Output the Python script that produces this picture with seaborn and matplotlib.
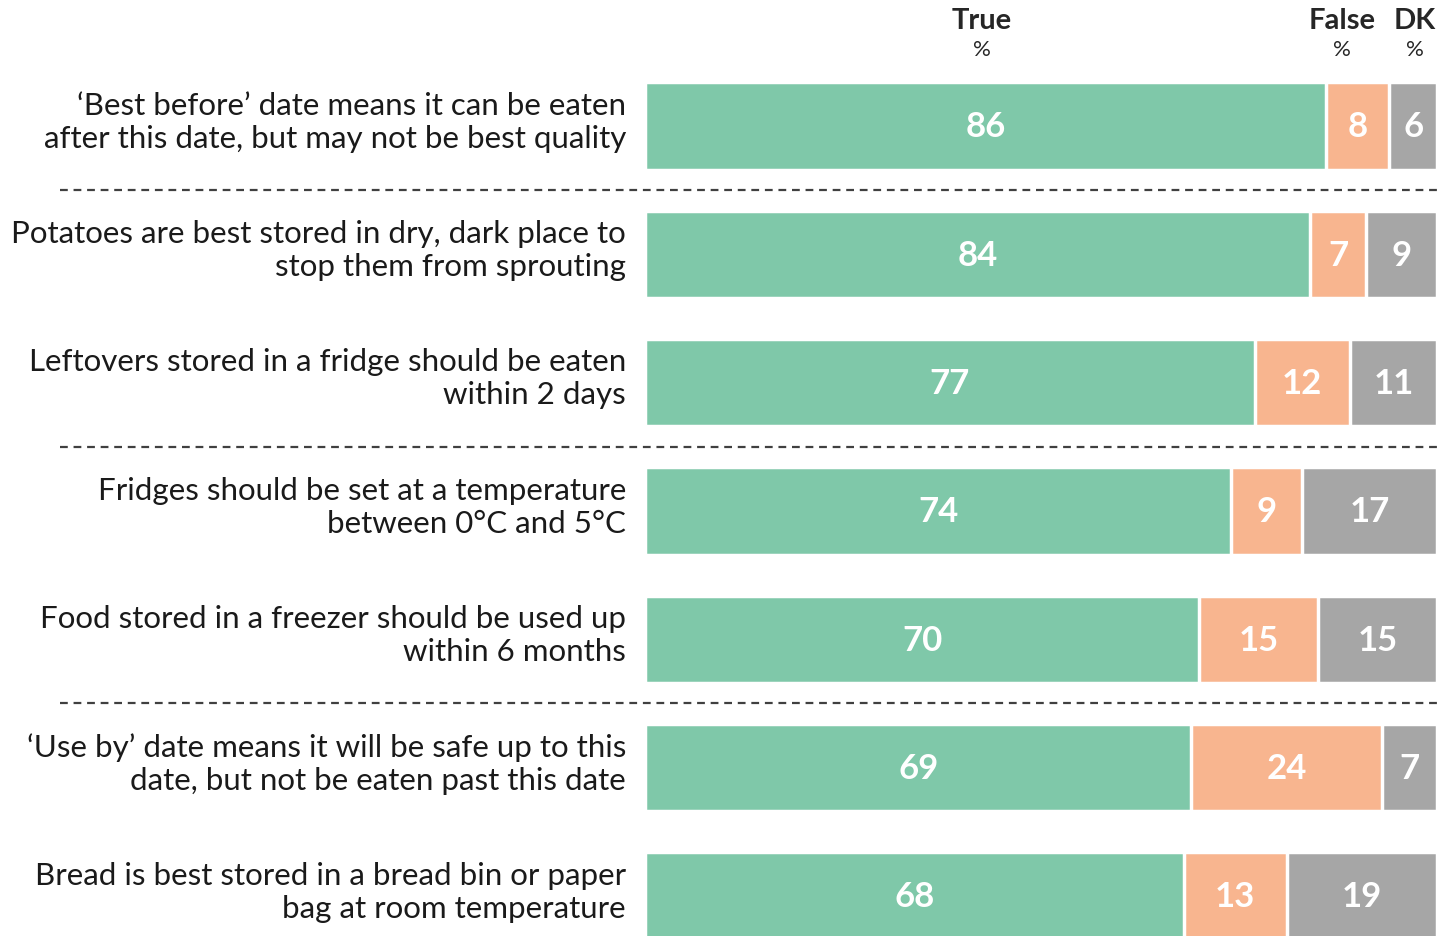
import matplotlib
matplotlib.use("Agg")
import matplotlib.pyplot as plt
import seaborn as sns
import pandas as pd

# Statements and responses (%)
statements = [
    "\u2018Best before\u2019 date means it can be eaten\nafter this date, but may not be best quality",
    "Potatoes are best stored in dry, dark place to\nstop them from sprouting",
    "Leftovers stored in a fridge should be eaten\nwithin 2 days",
    "Fridges should be set at a temperature\nbetween 0\u00b0C and 5\u00b0C",
    "Food stored in a freezer should be used up\nwithin 6 months",
    "\u2018Use by\u2019 date means it will be safe up to this\ndate, but not be eaten past this date",
    "Bread is best stored in a bread bin or paper\nbag at room temperature",
]
true_pct = [86, 84, 77, 74, 70, 69, 68]
false_pct = [8, 7, 12, 9, 15, 24, 13]
dk_pct = [6, 9, 11, 17, 15, 7, 19]

green = "#7FC8A9"
orange = "#F8B58F"
grey = "#A6A6A6"

df = pd.DataFrame({"statement": statements, "True": true_pct,
                   "False": false_pct, "DK": dk_pct})
df["tf"] = df["True"] + df["False"]
df["total"] = df["tf"] + df["DK"]

sns.set_style("white")
plt.rcParams["font.family"] = ["Lato", "DejaVu Sans"]

fig = plt.figure(figsize=(14.38, 9.36), dpi=100)
ax = fig.add_axes([645 / 1438, 0, 792 / 1438, 1])

kw = dict(y="statement", orient="h", width=0.68, edgecolor="white",
          linewidth=2.5, saturation=1, ax=ax)
sns.barplot(data=df, x="total", color=grey, **kw)
sns.barplot(data=df, x="tf", color=orange, **kw)
sns.barplot(data=df, x="True", color=green, **kw)

ax.set_xlim(0, 100)
ax.set_ylim(6.312, -0.982)
ax.set_xlabel("")
ax.set_ylabel("")
ax.set_xticks([])
ax.set_yticks([])
for s in ax.spines.values():
    s.set_visible(False)

val_font = dict(color="white", fontsize=25, fontweight="bold",
                ha="center", va="center")
for i, row in df.iterrows():
    ax.text(row["True"] / 2, i + 0.01, str(row["True"]), **val_font)
    ax.text(row["True"] + row["False"] / 2, i + 0.01, str(row["False"]), **val_font)
    ax.text(row["tf"] + row["DK"] / 2, i + 0.01, str(row["DK"]), **val_font)
    ax.text(-2.4, i - 0.03, row["statement"], ha="right", va="center",
            fontsize=22.5, color="#1a1a1a", linespacing=1.22, clip_on=False)

# header
for lab, xpos in [("True", 42.5), ("False", 88.0), ("DK", 97.2)]:
    ax.text(xpos, -0.82, lab, ha="center", va="center", fontsize=21,
            fontweight="bold", color="#262626")
    ax.text(xpos, -0.59, "%", ha="center", va="center", fontsize=16,
            color="#262626")

# dashed separators
for yb in [0.5, 2.5, 4.5]:
    ax.plot([-73.9, 100], [yb, yb], color="#404040", lw=1.6,
            dashes=(3.5, 2.6), clip_on=False)

fig.savefig("out.png", dpi=100)
